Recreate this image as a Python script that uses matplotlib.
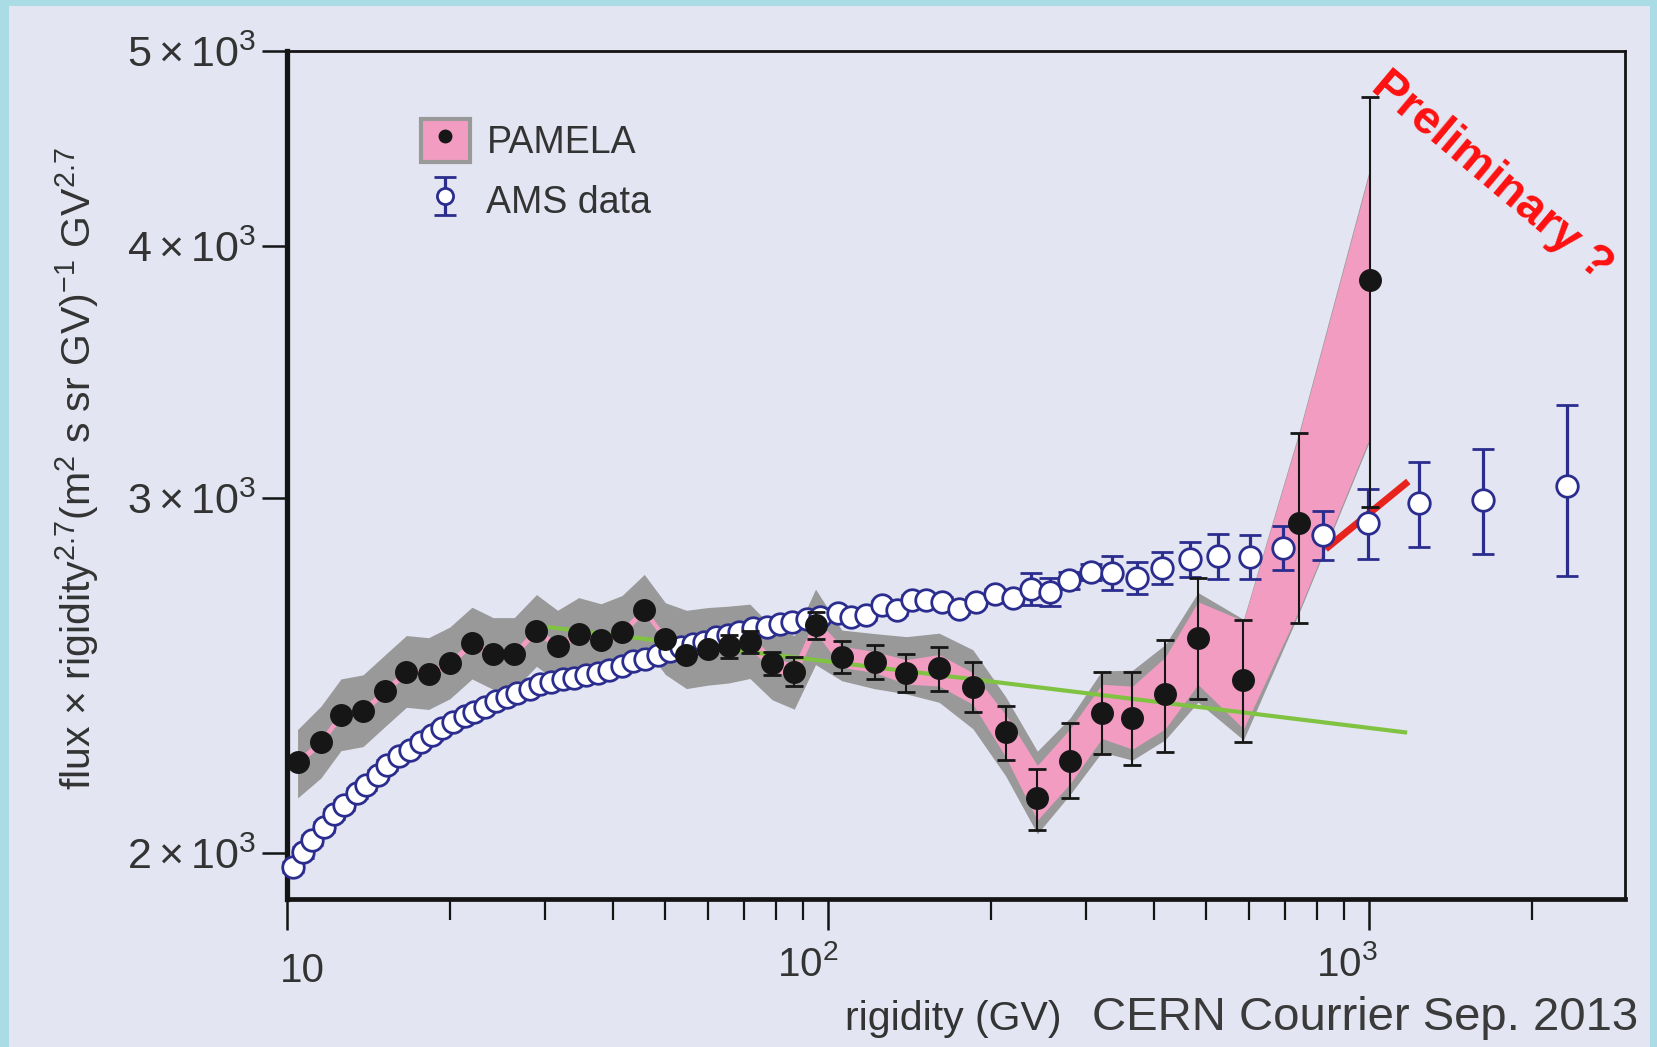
import matplotlib
matplotlib.use("Agg")
import matplotlib.pyplot as plt
from matplotlib.patches import Patch, Rectangle
from matplotlib.lines import Line2D
from matplotlib.ticker import NullFormatter, NullLocator
from matplotlib.transforms import ScaledTranslation

plt.rcParams['font.family'] = ['Liberation Sans', 'DejaVu Sans']
plt.rcParams['mathtext.fontset'] = 'custom'
plt.rcParams['mathtext.rm'] = 'Liberation Sans'
plt.rcParams['mathtext.it'] = 'Liberation Sans:italic'
plt.rcParams['mathtext.bf'] = 'Liberation Sans:bold'

# --- PAMELA: proton flux x R^2.7 (rigidity in GV) ---
pamela_R = [10.46, 11.55, 12.58, 13.82, 15.19, 16.62, 18.27, 19.99, 21.97, 24.04,
            26.30, 28.91, 31.62, 34.60, 38.04, 41.60, 45.74, 50.03, 54.73, 59.88,
            65.52, 71.70, 78.79, 86.6, 94.8, 106.0, 121.9, 139.5, 160.4, 185.2,
            212.9, 243.6, 280.1, 320.6, 365.2, 419.8, 482.6, 585.7, 743.1, 1005]
pamela_F = [2219, 2270, 2342, 2353, 2408, 2461, 2455, 2485, 2542, 2512,
            2512, 2579, 2533, 2570, 2552, 2576, 2639, 2555, 2509, 2524,
            2533, 2546, 2485, 2461, 2595, 2503, 2488, 2458, 2470, 2419,
            2297, 2130, 2221, 2348, 2334, 2399, 2558, 2437, 2917, 3848]
pamela_err_lo = [12, 12, 12, 12, 12, 12, 12, 12, 12, 12,
                 12, 12, 12, 12, 12, 12, 12, 12, 12, 12,
                 33, 33, 33, 40, 40, 45, 48, 53, 62, 70,
                 73, 76, 90, 108, 123, 154, 174, 167, 316, 879]
pamela_err_hi = [12, 12, 12, 12, 12, 12, 12, 12, 12, 12,
                 12, 12, 12, 12, 12, 12, 12, 12, 12, 12,
                 33, 33, 33, 40, 40, 45, 48, 53, 62, 70,
                 70, 72, 99, 112, 126, 152, 181, 173, 315, 894]

# systematic (grey) and statistical (pink) bands, in percent of the flux
sys_up = [3.8, 4.2, 4.2, 4.2, 4.2, 4.2, 4.2, 4.2, 4.2, 4.2,
          4.2, 4.2, 4.2, 4.2, 4.2, 4.2, 4.2, 4.2, 5.2, 4.9,
          4.7, 4.4, 4.2, 4.2, 4.2, 3.1, 3.3, 4.2, 4.1, 4.3,
          4.1, 5.5, 5.1, 4.9, 5.6, 5.8, 5.3, 7.2, 11.1, 13.9]
sys_dn = [4.0, 4.0, 4.0, 4.0, 4.0, 4.0, 4.0, 4.0, 4.0, 4.0,
          4.0, 4.0, 4.0, 4.0, 4.0, 4.0, 4.0, 4.0, 3.8, 4.0,
          4.1, 4.1, 4.1, 4.2, 4.4, 2.7, 3.0, 2.4, 3.8, 4.7,
          4.9, 4.0, 3.7, 4.4, 4.7, 5.1, 7.1, 6.6, 9.7, 16.6]
stat_up = [0.4, 0.4, 0.4, 0.4, 0.4, 0.4, 0.4, 0.4, 0.4, 0.4,
           0.4, 0.4, 0.4, 0.4, 0.4, 0.4, 0.4, 0.4, 0.4, 0.4,
           0.8, 0.8, 0.8, 0.8, 0.8, 1.2, 1.2, 1.5, 1.6, 1.6,
           2.0, 3.8, 3.8, 3.3, 3.7, 4.3, 4.2, 7.0, 10.8, 13.5]
stat_dn = [0.4, 0.4, 0.4, 0.4, 0.4, 0.4, 0.4, 0.4, 0.4, 0.4,
           0.4, 0.4, 0.4, 0.4, 0.4, 0.4, 0.4, 0.4, 0.4, 0.4,
           0.8, 0.8, 0.8, 0.8, 0.8, 1.2, 1.2, 1.3, 2.0, 2.0,
           2.8, 2.5, 2.5, 2.9, 3.5, 3.9, 5.2, 5.4, 9.4, 16.3]

# --- AMS-02 ---
ams_R = [10.27, 10.70, 11.14, 11.70, 12.24, 12.75, 13.46, 14.01, 14.72, 15.33,
         16.11, 16.85, 17.70, 18.52, 19.37, 20.26, 21.29, 22.17, 23.19, 24.37,
         25.48, 26.66, 28.14, 29.30, 30.78, 32.35, 33.98, 35.70, 37.51, 39.42,
         41.60, 43.52, 45.93, 48.48, 50.93, 53.52, 56.23, 59.09, 62.09, 65.24,
         68.55, 72.67, 77.04, 81.32, 85.83, 91.41, 96.47, 104.1, 110.4, 117.6,
         125.8, 134.0, 142.7, 151.9, 162.6, 174.7, 187.7, 203.6, 219.7, 237.1,
         257.2, 278.8, 306.4, 335.3, 371.7, 414.2, 465.6, 525.7, 601.6, 691.7,
         820.5, 995.4, 1236, 1625, 2318]
ams_F = [1969, 2002, 2031, 2061, 2091, 2113, 2143, 2161, 2188, 2212,
         2234, 2250, 2272, 2289, 2308, 2322, 2339, 2350, 2364, 2379,
         2390, 2402, 2413, 2425, 2431, 2440, 2443, 2451, 2457, 2466,
         2478, 2490, 2496, 2508, 2520, 2532, 2541, 2547, 2560, 2566,
         2575, 2587, 2591, 2597, 2603, 2612, 2619, 2631, 2619, 2625,
         2654, 2641, 2670, 2670, 2666, 2644, 2666, 2689, 2676, 2705,
         2695, 2731, 2758, 2754, 2738, 2771, 2798, 2808, 2805, 2835,
         2876, 2915, 2983, 2994, 3041]
ams_err = [12, 12, 12, 12, 12, 12, 12, 12, 12, 12,
           12, 12, 12, 12, 12, 12, 12, 12, 12, 12,
           12, 12, 12, 12, 12, 12, 12, 12, 12, 12,
           12, 12, 12, 12, 12, 12, 12, 12, 12, 12,
           12, 12, 12, 12, 12, 12, 12, 15, 15, 15,
           15, 15, 15, 15, 15, 15, 15, 15, 15, 49,
           43, 25, 25, 53, 50, 50, 57, 71, 71, 72,
           80, 117, 145, 180, 297]

# single power-law fit (green) and high-rigidity hardening (red)
fit_R = [30.5, 1165]
fit_F = [2589, 2296]
hard_R = [831, 1181]
hard_F = [2831, 3058]

x_major = [10, 100, 1000]
x_major_labels = ['10', r'$10^{2}$', r'$10^{3}$']
x_minor = [20, 30, 40, 50, 60, 70, 80, 90, 200, 300, 400, 500, 600, 700, 800, 900, 2000]
y_major = [2000, 3000, 4000, 5000]
y_major_labels = [r'$2\times10^{3}$', r'$3\times10^{3}$', r'$4\times10^{3}$', r'$5\times10^{3}$']

BG = '#e3e5f2'
FRAME = '#a9dce4'
PINK = '#f29cc2'
GREY = '#999999'
GREEN = '#80c342'
RED = '#e8231d'
NAVY = '#2b2d8e'
DOT = '#161616'
INK = '#333333'

W, H = 1657, 1047
fig = plt.figure(figsize=(W / 100, H / 100), dpi=100)
fig.patch.set_facecolor(FRAME)
fig.add_artist(Rectangle((9 / W, 0), (W - 16) / W, (H - 6) / H, transform=fig.transFigure,
                         facecolor=BG, edgecolor='none', zorder=-10))

ax = fig.add_axes([287 / W, 1 - 899 / H, (1625 - 287) / W, (899 - 51) / H])
ax.set_facecolor(BG)
ax.set_xscale('log')
ax.set_yscale('log')
ax.set_xlim(10, 2970)
ax.set_ylim(1898, 5000)

sys_lo = [f * (1 - d / 100) for f, d in zip(pamela_F, sys_dn)]
sys_hi = [f * (1 + u / 100) for f, u in zip(pamela_F, sys_up)]
stat_lo = [f * (1 - d / 100) for f, d in zip(pamela_F, stat_dn)]
stat_hi = [f * (1 + u / 100) for f, u in zip(pamela_F, stat_up)]

ax.fill_between(pamela_R, sys_lo, sys_hi, color=GREY, lw=0, zorder=1)
ax.fill_between(pamela_R, stat_lo, stat_hi, color=PINK, lw=0, zorder=2)
ax.plot(pamela_R, pamela_F, color=PINK, lw=2.4, zorder=2.5)

ax.plot(fit_R, fit_F, color=GREEN, lw=3, zorder=3)
ax.plot(hard_R, hard_F, color=RED, lw=5, solid_capstyle='butt', zorder=3)

ams = ax.errorbar(ams_R, ams_F, yerr=ams_err, fmt='o', ms=15.5, mfc='white', mec=NAVY,
                  mew=2.0, color=NAVY, elinewidth=2.3, capsize=8, capthick=2.3,
                  zorder=4, clip_on=False)
ax.errorbar(pamela_R, pamela_F, yerr=[pamela_err_lo, pamela_err_hi], fmt='o', ms=15.5,
            color=DOT, elinewidth=1.5, capsize=6.5, capthick=2, zorder=5)

# axes frame and ticks
for side, lw in [('left', 3.8), ('bottom', 3.4), ('top', 2.0), ('right', 2.0)]:
    ax.spines[side].set_linewidth(lw)
    ax.spines[side].set_color('#141414')

ax.set_xticks(x_major, labels=x_major_labels)
ax.set_xticks(x_minor, minor=True)
ax.xaxis.set_minor_formatter(NullFormatter())
ax.set_yticks(y_major, labels=y_major_labels)
ax.yaxis.set_minor_locator(NullLocator())
ax.tick_params(axis='x', which='major', direction='out', length=22, width=1.8,
               color='#141414', pad=11, labelsize=29, labelcolor=INK)
ax.tick_params(axis='x', which='minor', direction='out', length=15, width=1.6, color='#141414')
ax.tick_params(axis='y', which='major', direction='out', length=18, width=1.8,
               color='#141414', pad=4, labelsize=31, labelcolor=INK)

for lbl, dx, dy in zip(ax.get_xticklabels(), [15, -20, -22], [-7, 0, 0]):
    lbl.set_transform(lbl.get_transform() + ScaledTranslation(dx / 100, dy / 100, fig.dpi_scale_trans))

fig.text(77 / W, 1 - 468 / H,
         r'flux × rigidity$^{2.7}$(m$^{2}$ s sr GV)$^{-1}$ GV$^{2.7}$',
         rotation=90, ha='center', va='center', fontsize=29.5, color=INK)
fig.text(953 / W, 17 / H, 'rigidity (GV)', ha='center', va='baseline', fontsize=29.5, color=INK)
fig.text(1092 / W, 17 / H, 'CERN Courrier Sep. 2013', ha='left', va='baseline',
         fontsize=34, color='#3a3a3a')
fig.text(1492 / W, 1 - 176 / H, 'Preliminary ?', rotation=-40, rotation_mode='anchor',
         ha='center', va='center', fontsize=34, fontweight='bold', color='#ff1010')

pamela_handle = (Patch(facecolor=PINK, edgecolor=GREY, linewidth=3),
                 Line2D([], [], marker='o', ls='none', color=DOT, ms=12))
ax.legend([pamela_handle, ams], ['PAMELA', 'AMS data'], loc='upper left',
          bbox_to_anchor=(0.10, 0.92), frameon=False, fontsize=27, markerscale=0.75,
          handlelength=1.3, handleheight=1.4, handletextpad=0.45, labelspacing=0.45,
          borderpad=0, borderaxespad=0, labelcolor=INK)

fig.savefig('out.png', dpi=100, facecolor=fig.get_facecolor())
